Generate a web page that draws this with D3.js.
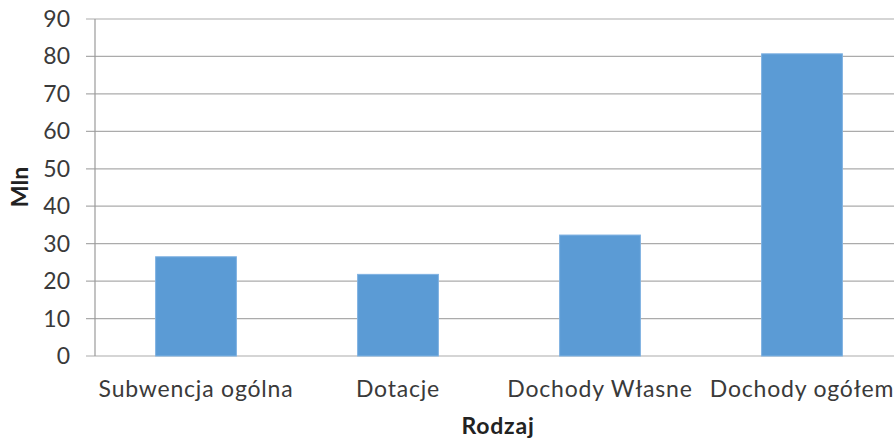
<!DOCTYPE html>
<meta charset="utf-8">
<script src="https://d3js.org/d3.v7.min.js"></script>
<style>
body { margin: 0; background: #fff; }
text { font-family: Lato, "Open Sans", sans-serif; }
</style>
<div id="chart"></div>
<script>

// data
var categories = ["Subwencja ogólna", "Dotacje", "Dochody Własne", "Dochody ogółem"];
var values = [26.5, 21.8, 32.3, 80.7];
var yTicks = [0, 10, 20, 30, 40, 50, 60, 70, 80, 90];

var W = 894, H = 443;
var margin = {top: 19, right: -9, bottom: 87, left: 95};
var width = W - margin.left - margin.right,
    height = H - margin.top - margin.bottom;

var svg = d3.select("#chart").append("svg")
    .attr("width", W)
    .attr("height", H);

var g = svg.append("g")
    .attr("transform", "translate(" + margin.left + "," + margin.top + ")");

var x = d3.scaleBand()
    .domain(categories)
    .range([0, width])
    .paddingInner(0.6)
    .paddingOuter(0.3);

var y = d3.scaleLinear()
    .domain([0, 90])
    .range([height, 0]);

// gridlines
g.selectAll(".grid")
  .data(yTicks)
  .enter().append("line")
    .attr("x1", -9)
    .attr("x2", width)
    .attr("y1", function(d) { return y(d); })
    .attr("y2", function(d) { return y(d); })
    .attr("stroke", "#ababab")
    .attr("stroke-width", 1.2);

// y axis line
g.append("line")
    .attr("x1", 0).attr("x2", 0)
    .attr("y1", 0).attr("y2", height)
    .attr("stroke", "#9a9a9a")
    .attr("stroke-width", 1.2);

// y tick labels
g.selectAll(".ylab")
  .data(yTicks)
  .enter().append("text")
    .attr("x", -25)
    .attr("y", function(d) { return y(d); })
    .attr("dy", "0.35em")
    .attr("text-anchor", "end")
    .attr("fill", "#3a3a3a")
    .style("font-size", "23px")
    .text(function(d) { return d; });

// bars
g.selectAll(".bar")
  .data(values)
  .enter().append("rect")
    .attr("x", function(d, i) { return x(categories[i]); })
    .attr("y", function(d) { return y(d); })
    .attr("width", x.bandwidth())
    .attr("height", function(d) { return height - y(d); })
    .attr("fill", "#5b9bd5")
    .attr("stroke", "#7fb2e2")
    .attr("stroke-width", 1);

// category labels
g.selectAll(".xlab")
  .data(categories)
  .enter().append("text")
    .attr("x", function(d) { return x(d) + x.bandwidth() / 2; })
    .attr("y", height + 41)
    .attr("text-anchor", "middle")
    .attr("fill", "#3a3a3a")
    .style("font-size", "23px")
    .style("letter-spacing", "0.8px")
    .text(function(d) { return d; });

// axis titles
svg.append("text")
    .attr("x", 498)
    .attr("y", 434)
    .attr("text-anchor", "middle")
    .style("font-size", "23px")
    .style("font-weight", "bold")
    .style("letter-spacing", "0.8px")
    .attr("fill", "#222")
    .text("Rodzaj");

svg.append("text")
    .attr("transform", "translate(28,187) rotate(-90)")
    .attr("text-anchor", "middle")
    .style("font-size", "23px")
    .style("font-weight", "bold")
    .attr("fill", "#222")
    .text("Mln");

</script>
